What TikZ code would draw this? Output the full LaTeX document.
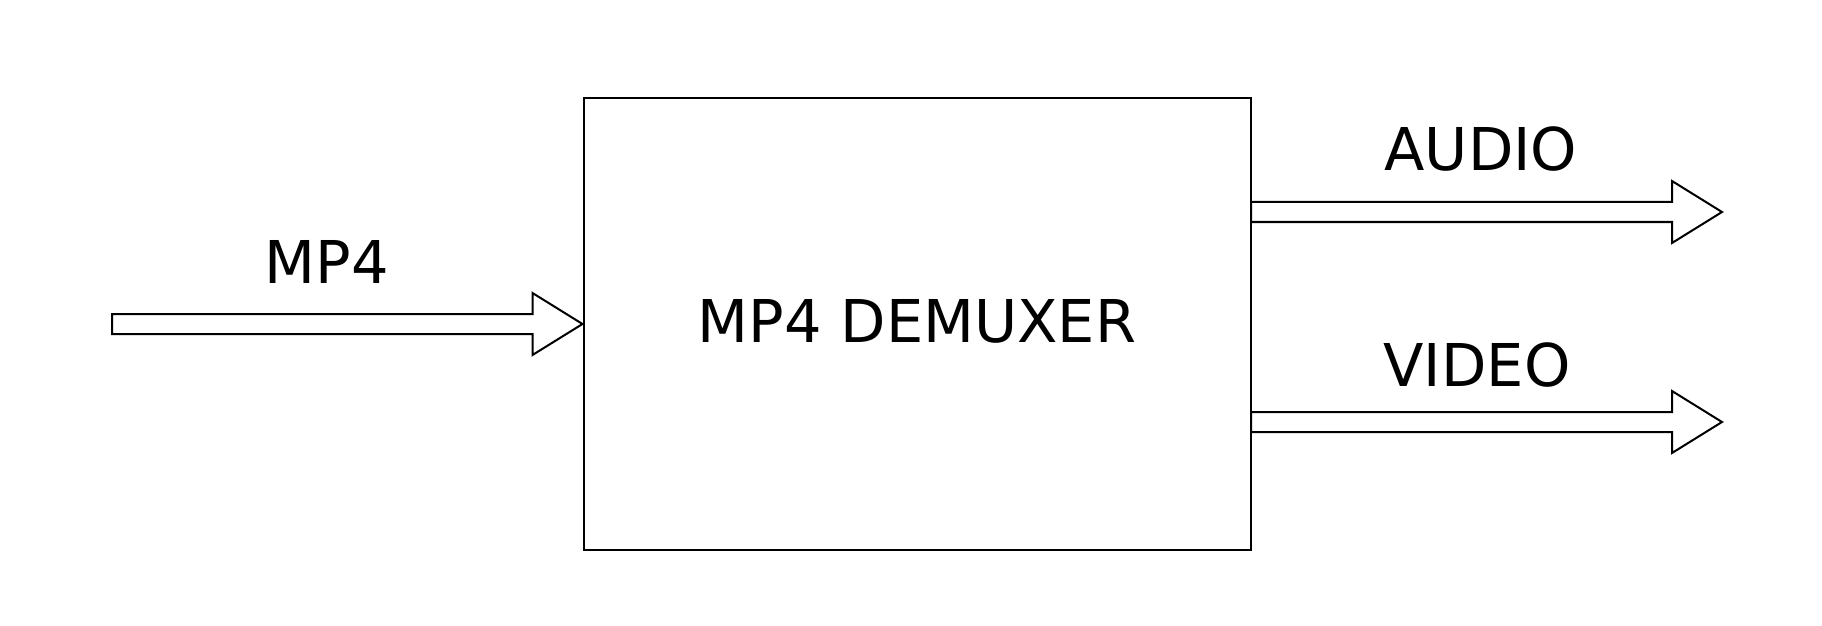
\documentclass[tikz,border=0pt]{standalone}
\usepackage{fontspec}
\setmainfont{DejaVu Sans}
\usetikzlibrary{calc}

\tikzset{
  blockline/.style={draw=black, line width=1pt, fill=white, line join=miter},
  label/.style={font=\fontsize{29.5}{35}\selectfont, anchor=base, inner sep=0pt}
}

% horizontal hollow block arrow from #1 to #2
\newcommand{\blockarrow}[2]{%
  \draw[blockline] let \p1=(#1), \p2=(#2) in
    (\x1,\y1+5pt) -- (\x2-25pt,\y1+5pt) -- (\x2-25pt,\y1+15.5pt) -- (\x2,\y1)
    -- (\x2-25pt,\y1-15.5pt) -- (\x2-25pt,\y1-5pt) -- (\x1,\y1-5pt) -- cycle;}

\begin{document}
\begin{tikzpicture}[x=0.5pt, y=-0.5pt]
    \useasboundingbox (0,0) rectangle (1822,626);

    % Demuxer block
    \node[draw, line width=1pt, minimum width=333.5pt, minimum height=226pt,
          inner sep=0pt, text depth=3.5pt, font=\fontsize{29.5}{35}\selectfont] (demux) at (917,324) {MP4 DEMUXER};

    % Input stream
    \coordinate (src) at (112,324);
    \blockarrow{src}{demux.west}
    \node[label] (mp4) at (327,283) {MP4};

    % Output streams
    \coordinate (aout) at (1251,212);
    \coordinate (aend) at (1722,212);
    \blockarrow{aout}{aend}
    \node[label] (audio) at (1481,170) {AUDIO};

    \coordinate (vout) at (1251,422);
    \coordinate (vend) at (1722,422);
    \blockarrow{vout}{vend}
    \node[label] (video) at (1477,386) {VIDEO};
\end{tikzpicture}
\end{document}
